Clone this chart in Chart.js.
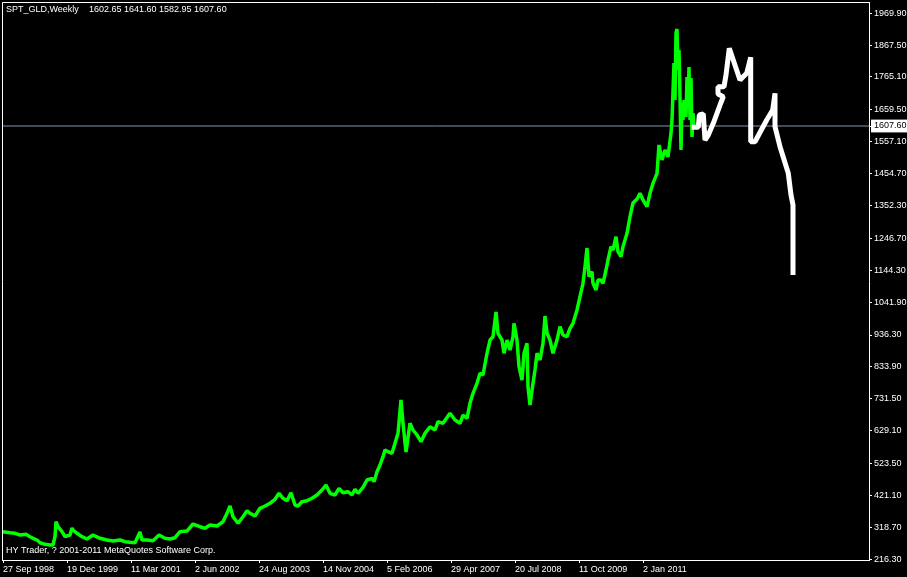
<!DOCTYPE html>
<html>
<head>
<meta charset="utf-8">
<script src="https://cdn.jsdelivr.net/npm/chart.js@4.4.0/dist/chart.umd.min.js"></script>
<style>
html,body{margin:0;padding:0;background:#000;overflow:hidden}
#wrap{width:907px;height:577px;position:relative}
</style>
</head>
<body>
<div id="wrap"><canvas id="c" width="907" height="577"></canvas></div>
<script>
// ---- text ----
const symbolTitle = 'SPT_GLD,Weekly';
const ohlc = [1602.65, 1641.60, 1582.95, 1607.60];
const currentPrice = 1607.60;
const copyright = 'HY Trader, ? 2001-2011 MetaQuotes Software Corp.';

// ---- x axis: week index since 27 Sep 1998 ----
const dateTickWeeks = [0, 64, 128, 192, 256, 320, 384, 448, 512, 576, 640];
const dateTickLabels = ['27 Sep 1998', '19 Dec 1999', '11 Mar 2001', '2 Jun 2002', '24 Aug 2003',
  '14 Nov 2004', '5 Feb 2006', '29 Apr 2007', '20 Jul 2008', '11 Oct 2009', '2 Jan 2011'];

// ---- y axis ticks ----
const priceTicks = [1969.90, 1867.50, 1765.10, 1659.50, 1557.10, 1454.70, 1352.30, 1246.70, 1144.30,
  1041.90, 936.30, 833.90, 731.50, 629.10, 523.50, 421.10, 318.70, 216.30];

// ---- weekly gold price ----
const priceWeeks = [
  0, 7, 12, 17, 23, 27, 30, 34, 37, 42,
  47, 50, 52, 53, 55, 59, 62, 67, 69, 70,
  74, 79, 84, 90, 97, 104, 110, 117, 122, 127,
  132, 137, 139, 144, 150, 156, 162, 167, 172, 177,
  184, 190, 197, 202, 207, 214, 220, 224, 227, 230,
  235, 240, 244, 247, 252, 257, 262, 267, 272, 276,
  280, 284, 288, 292, 295, 299, 304, 309, 314, 319,
  323, 327, 332, 336, 340, 345, 349, 352, 355, 360,
  364, 369, 371, 374, 377, 380, 382, 385, 389, 392,
  395, 398, 400, 403, 407, 410, 414, 418, 422, 427,
  432, 435, 440, 447, 452, 457, 460, 464, 467, 470,
  474, 477, 480, 484, 487, 490, 493, 495, 499, 501,
  504, 507, 510, 511, 514, 516, 519, 521, 524, 525,
  527, 530, 532, 534, 537, 540, 542, 544, 547, 550,
  554, 557, 560, 564, 567, 570, 574, 577, 580, 582,
  584, 586, 589, 590, 593, 595, 598, 600, 603, 605,
  608, 610, 613, 615, 618, 620, 624, 627, 630, 634,
  637, 640, 644, 647, 650, 654, 656, 659, 662, 665,
  668, 669, 671, 672, 673, 674, 675, 676, 677, 678,
  679, 680, 681, 683, 684, 685, 686, 687, 688, 689,
  690, 691
];
const prices = [
  304.5, 301.3, 299.3, 293.9, 296.1, 288.4, 283.3, 277.8, 269.1, 264.0,
  261.8, 261.8, 288.4, 336.6, 320.5, 304.5, 288.4, 293.9, 316.4, 309.9,
  299.3, 288.4, 281.0, 293.9, 283.3, 277.8, 274.6, 277.8, 272.4, 270.4,
  269.1, 303.5, 277.8, 277.8, 275.6, 293.9, 283.3, 281.0, 285.2, 304.5,
  306.7, 329.2, 320.5, 315.4, 326.0, 322.8, 336.6, 363.6, 387.0, 352.7,
  331.5, 352.7, 371.9, 363.6, 354.9, 379.6, 387.0, 395.7, 408.5, 427.8,
  411.8, 404.1, 429.7, 390.2, 387.0, 400.8, 404.1, 411.8, 422.4, 438.4,
  454.5, 427.8, 422.4, 443.9, 429.7, 433.0, 422.4, 440.7, 427.8, 447.1,
  470.5, 476.0, 465.1, 497.2, 518.7, 545.4, 566.9, 561.4, 556.3, 588.4,
  620.5, 727.5, 652.7, 560.5, 652.7, 631.1, 615.1, 593.6, 620.5, 641.7,
  631.1, 657.8, 652.7, 684.8, 663.3, 652.7, 679.3, 668.7, 716.9, 749.0,
  781.1, 813.3, 807.8, 877.5, 920.2, 930.8, 1010.2, 941.7, 920.2, 877.5,
  920.2, 888.1, 930.8, 973.9, 920.2, 834.5, 791.7, 877.5, 909.6, 770.2,
  711.4, 781.1, 823.9, 877.5, 856.0, 909.6, 997.3, 941.7, 920.2, 877.5,
  920.2, 962.9, 936.3, 930.8, 957.8, 973.9, 1016.6, 1059.3, 1102.3, 1155.7,
  1215.7, 1123.5, 1139.6, 1102.3, 1080.8, 1112.9, 1112.9, 1102.3, 1145.1, 1177.2,
  1219.9, 1209.3, 1252.0, 1203.8, 1187.8, 1219.9, 1262.9, 1316.2, 1360.3, 1373.1,
  1391.4, 1369.9, 1348.4, 1391.4, 1423.5, 1455.6, 1546.6, 1498.4, 1530.5, 1509.0,
  1584.1, 1626.9, 1809.9, 1691.1, 1906.3, 1919.2, 1787.5, 1851.7, 1700.7, 1530.5,
  1681.5, 1626.9, 1691.1, 1636.5, 1765.0, 1668.6, 1797.1, 1626.9, 1761.8, 1572.3,
  1649.3, 1607.6
];

// ---- white forecast line ----
const forecastWeeks = [688.7, 695.3, 696.3, 700.3, 702, 705.3, 710.3, 717, 720.3, 715,
  715, 721, 723, 726.3, 737, 743.7, 747.7, 747.7, 752, 763.7,
  769.7, 772, 772, 777, 785.3, 788, 790, 790];
const forecastPrices = [1603.4, 1603.4, 1642.9, 1646.1, 1562.6, 1578.7, 1616.3, 1675.0, 1701.7, 1710.4,
  1733.8, 1733.8, 1771.4, 1857.2, 1755.3, 1776.9, 1828.3, 1557.2, 1557.2, 1626.9,
  1659.0, 1712.6, 1605.3, 1541.1, 1455.6, 1386.0, 1353.8, 1129.0];

// ---- axis ranges ----
const xRange = [-1, 866];
const yRange = [213.6, 2005.9];

const FONT = {family: 'Liberation Sans', size: 9};

const bgPlugin = {
  id: 'bg',
  beforeDraw(c) {
    const ctx = c.ctx;
    ctx.save();
    ctx.fillStyle = '#000';
    ctx.fillRect(0, 0, c.width, c.height);
    ctx.restore();
  }
};
const framePlugin = {
  id: 'frame',
  afterDraw(c) {
    const ctx = c.ctx;
    const a = c.chartArea;
    ctx.save();
    ctx.strokeStyle = '#fff';
    ctx.lineWidth = 1;
    ctx.beginPath();
    ctx.moveTo(a.left + 0.5, a.bottom);
    ctx.lineTo(a.left + 0.5, a.top + 0.5);
    ctx.lineTo(a.right, a.top + 0.5);
    ctx.stroke();
    ctx.fillStyle = '#fff';
    ctx.font = '9px "Liberation Sans"';
    ctx.textBaseline = 'middle';
    ctx.textAlign = 'left';
    ctx.fillText(symbolTitle, a.left + 4, a.top + 8);
    ctx.fillText(ohlc.map(v => v.toFixed(2)).join(' '), a.left + 87, a.top + 8);
    ctx.fillText(copyright, a.left + 4, a.bottom - 9);
    ctx.restore();
  }
};

const toPts = (xs, ys) => xs.map((x, i) => ({x: x, y: ys[i]}));

new Chart(document.getElementById('c'), {
  type: 'line',
  data: {
    datasets: [
      {
        label: 'forecast',
        data: toPts(forecastWeeks, forecastPrices),
        borderColor: '#ffffff',
        borderWidth: 5,
        borderJoinStyle: 'bevel',
        pointRadius: 0,
        tension: 0
      },
      {
        label: 'SPT_GLD',
        data: toPts(priceWeeks, prices),
        borderColor: '#00ff00',
        borderWidth: 3.5,
        borderJoinStyle: 'bevel',
        pointRadius: 0,
        tension: 0
      },
      {
        label: 'bid',
        data: [{x: xRange[0], y: currentPrice}, {x: xRange[1], y: currentPrice}],
        borderColor: 'rgb(130,148,170)',
        borderWidth: 1,
        pointRadius: 0,
        tension: 0
      }
    ]
  },
  options: {
    responsive: false,
    animation: false,
    devicePixelRatio: 1,
    events: [],
    layout: {padding: {left: 2, top: 2, right: 0, bottom: 0}},
    plugins: {legend: {display: false}, tooltip: {enabled: false}},
    scales: {
      x: {
        type: 'linear',
        position: 'bottom',
        min: xRange[0],
        max: xRange[1],
        grid: {display: true, drawOnChartArea: false, drawTicks: true, tickLength: 3, color: '#fff', lineWidth: 1},
        border: {display: true, color: '#fff', width: 1},
        ticks: {
          color: '#fff', font: FONT, align: 'start', maxRotation: 0, minRotation: 0, autoSkip: false, padding: 1,
          callback: (v) => { const i = dateTickWeeks.indexOf(v); return i >= 0 ? dateTickLabels[i] : ''; }
        },
        afterBuildTicks: (s) => { s.ticks = dateTickWeeks.map(v => ({value: v})); },
        afterFit: (s) => { s.height = 17; s.paddingLeft = 0; s.paddingRight = 0; }
      },
      y: {
        type: 'linear',
        position: 'right',
        min: yRange[0],
        max: yRange[1],
        grid: {display: true, drawOnChartArea: false, drawTicks: true, tickLength: 3, color: '#fff', lineWidth: 1},
        border: {display: true, color: '#fff', width: 1},
        ticks: {
          font: FONT, autoSkip: false, padding: 2,
          color: (c) => (c.tick && c.tick.value === currentPrice) ? '#000' : '#fff',
          showLabelBackdrop: (c) => !!(c.tick && c.tick.value === currentPrice),
          backdropColor: '#fff',
          backdropPadding: {top: 1, bottom: 1, left: 3, right: 3},
          callback: (v) => Number(v).toFixed(2)
        },
        afterBuildTicks: (s) => { s.ticks = priceTicks.concat([currentPrice]).map(v => ({value: v})); },
        afterFit: (s) => { s.width = 38; s.paddingTop = 0; s.paddingBottom = 0; }
      }
    }
  },
  plugins: [bgPlugin, framePlugin]
});
</script>
</body>
</html>
